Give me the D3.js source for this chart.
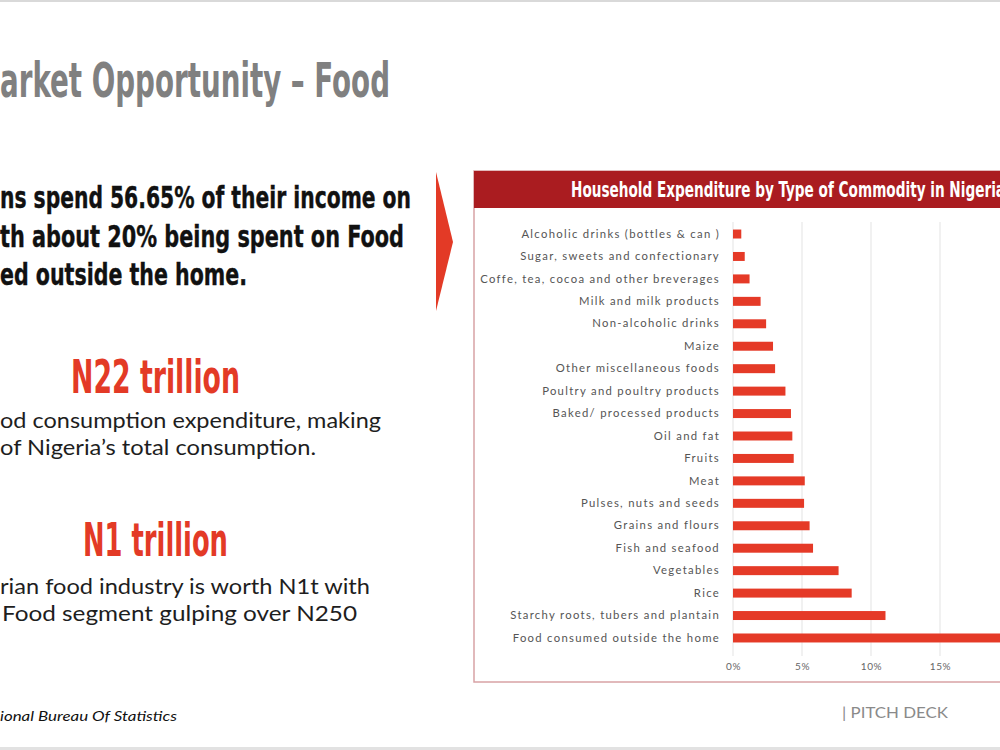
<!DOCTYPE html>
<html>
<head>
<meta charset="utf-8">
<script src="https://cdn.jsdelivr.net/npm/d3@7"></script>
<style>
  body { margin: 0; background: #fff; overflow: hidden; }
  svg { display: block; }
  .cond { font-family: "Liberation Sans Narrow", "DejaVu Sans Condensed", "DejaVu Sans", sans-serif; font-stretch: condensed; font-weight: bold; }
  .body { font-family: Lato, "Noto Sans", sans-serif; }
</style>
</head>
<body>
<svg id="slide"></svg>
<script>
const width = 1000;
const height = 750;

const categories = [
  "Alcoholic drinks (bottles & can )",
  "Sugar, sweets and confectionary",
  "Coffe, tea, cocoa and other breverages",
  "Milk and milk products",
  "Non-alcoholic drinks",
  "Maize",
  "Other miscellaneous foods",
  "Poultry and poultry products",
  "Baked/ processed products",
  "Oil and fat",
  "Fruits",
  "Meat",
  "Pulses, nuts and seeds",
  "Grains and flours",
  "Fish and seafood",
  "Vegetables",
  "Rice",
  "Starchy roots, tubers and plantain",
  "Food consumed outside the home"
];

const shares = [0.6, 0.85, 1.2, 2.0, 2.4, 2.9, 3.05, 3.8, 4.2, 4.3, 4.4, 5.2, 5.15, 5.55, 5.8, 7.65, 8.6, 11.05, 19.8];

// only 0-15% fall inside the visible slide
const tickValues = [0, 5, 10, 15];

const chartTitle = "Household Expenditure by Type of Commodity in Nigeria";

const svg = d3.select("#slide")
  .attr("width", width)
  .attr("height", height);

// slide frame lines
svg.append("rect").attr("x", 0).attr("y", 0).attr("width", width).attr("height", 2).attr("fill", "#d9d9d9");
svg.append("rect").attr("x", 0).attr("y", 747).attr("width", width).attr("height", 3).attr("fill", "#e2e2e2");

// left column text
svg.append("text")
  .attr("class", "cond")
  .attr("x", 0).attr("y", 97)
  .attr("font-size", 48)
  .attr("fill", "#808080")
  .attr("textLength", 390).attr("lengthAdjust", "spacingAndGlyphs")
  .text("arket Opportunity – Food");

const leadLines = [
  { t: "ns spend 56.65% of their income on", y: 208, w: 411 },
  { t: "th about 20% being spent on Food", y: 247, w: 404 },
  { t: "ed outside the home.", y: 285, w: 247 }
];
svg.selectAll(".lead")
  .data(leadLines)
  .enter().append("text")
  .attr("class", "cond lead")
  .attr("x", 0).attr("y", d => d.y)
  .attr("font-size", 31)
  .attr("fill", "#111")
  .attr("stroke", "#111").attr("stroke-width", 0.4)
  .attr("textLength", d => d.w).attr("lengthAdjust", "spacingAndGlyphs")
  .text(d => d.t);

const bigFigures = [
  { t: "N22 trillion", x: 71, y: 393, w: 169 },
  { t: "N1 trillion", x: 83, y: 556, w: 145 }
];
svg.selectAll(".big")
  .data(bigFigures)
  .enter().append("text")
  .attr("class", "cond big")
  .attr("x", d => d.x).attr("y", d => d.y)
  .attr("font-size", 46)
  .attr("fill", "#e33a26")
  .attr("textLength", d => d.w).attr("lengthAdjust", "spacingAndGlyphs")
  .text(d => d.t);

const bodyLines = [
  { t: "od consumption expenditure, making", x: 0, y: 428, w: 381 },
  { t: "of Nigeria’s total consumption.", x: 0, y: 455, w: 316 },
  { t: "rian food industry is worth N1t with", x: 0, y: 594, w: 370 },
  { t: "Food segment gulping over N250", x: 2, y: 621, w: 355 }
];
svg.selectAll(".bodyline")
  .data(bodyLines)
  .enter().append("text")
  .attr("class", "body bodyline")
  .attr("x", d => d.x).attr("y", d => d.y)
  .attr("font-size", 22)
  .attr("fill", "#1e1e1e")
  .attr("textLength", d => d.w).attr("lengthAdjust", "spacingAndGlyphs")
  .text(d => d.t);

// arrow
svg.append("path")
  .attr("d", "M436,172 L453,242 L436,311 Z")
  .attr("fill", "#e33a26");

// footer
svg.append("text")
  .attr("class", "body")
  .attr("x", 0).attr("y", 721)
  .attr("font-size", 14)
  .attr("font-style", "italic")
  .attr("fill", "#111")
  .attr("textLength", 177).attr("lengthAdjust", "spacingAndGlyphs")
  .text("ional Bureau Of Statistics");

svg.append("text")
  .attr("class", "body")
  .attr("x", 842).attr("y", 718)
  .attr("font-size", 15)
  .attr("fill", "#8a8a8a")
  .attr("textLength", 106).attr("lengthAdjust", "spacingAndGlyphs")
  .text("| PITCH DECK");

// chart panel
const panel = { x: 474, y: 171, w: 560, h: 511, head: 37 };

svg.append("rect")
  .attr("x", panel.x).attr("y", panel.y)
  .attr("width", panel.w).attr("height", panel.h)
  .attr("fill", "#fff")
  .attr("stroke", "#d8a2a5")
  .attr("stroke-width", 1.5);

svg.append("rect")
  .attr("x", panel.x).attr("y", panel.y)
  .attr("width", panel.w).attr("height", panel.head)
  .attr("fill", "#aa1c20");

svg.append("text")
  .attr("class", "cond")
  .attr("x", 571).attr("y", 197)
  .attr("font-size", 21)
  .attr("fill", "#fff")
  .attr("textLength", 434).attr("lengthAdjust", "spacingAndGlyphs")
  .text(chartTitle);

const x = d3.scaleLinear()
  .domain([0, 20])
  .range([733, 1009]);

const y = d3.scaleBand()
  .domain(categories)
  .range([222.8, 649.2])
  .paddingInner(0.6)
  .paddingOuter(0.3);

// gridlines
svg.append("g")
  .selectAll("line")
  .data(tickValues)
  .enter().append("line")
  .attr("x1", d => x(d)).attr("x2", d => x(d))
  .attr("y1", 222).attr("y2", 656)
  .attr("stroke", "#e3e3e3")
  .attr("stroke-width", 1);

const xAxis = svg.append("g")
  .attr("transform", "translate(0,656)")
  .call(d3.axisBottom(x).tickValues(tickValues).tickFormat(d => d + "%").tickSize(0).tickPadding(7));
xAxis.select(".domain").remove();
xAxis.selectAll("text")
  .attr("font-family", "Lato, 'Noto Sans', sans-serif")
  .attr("font-size", 10)
  .attr("letter-spacing", 0.6)
  .attr("fill", "#666");

svg.append("g")
  .selectAll("rect")
  .data(shares)
  .enter().append("rect")
  .attr("x", x(0))
  .attr("y", (d, i) => y(categories[i]))
  .attr("width", d => x(d) - x(0))
  .attr("height", y.bandwidth())
  .attr("fill", "#e53a27");

const yAxis = svg.append("g")
  .attr("transform", "translate(733,0)")
  .call(d3.axisLeft(y).tickSize(0).tickPadding(13));
yAxis.select(".domain").remove();
yAxis.selectAll("text")
  .attr("font-family", "Lato, 'Noto Sans', sans-serif")
  .attr("font-size", 11.3)
  .attr("letter-spacing", 1.3)
  .attr("fill", "#555");
</script>
</body>
</html>
